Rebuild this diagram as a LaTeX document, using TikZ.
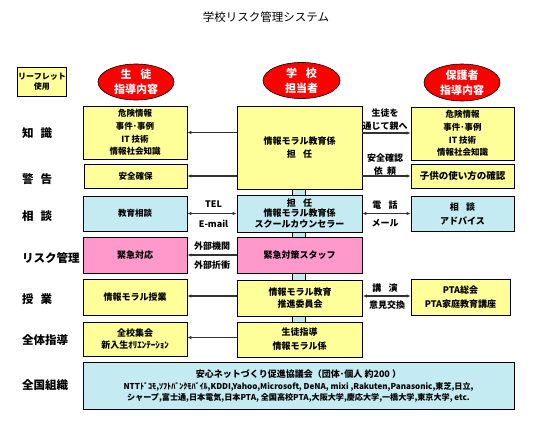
\documentclass[tikz,border=0pt]{standalone}
\usepackage{fontspec}
\setmainfont{Noto Sans CJK JP}
\usetikzlibrary{shapes.geometric,arrows.meta}
\definecolor{byellow}{HTML}{FFFF99}
\definecolor{bblue}{HTML}{C4EAF2}
\definecolor{bpink}{HTML}{FF99CC}
\definecolor{ored}{HTML}{FF0000}
\definecolor{lnc}{HTML}{333333}
\tikzset{
  box/.style={draw=black, line width=0.8pt, align=center, inner sep=1pt,
    font=\bfseries\fontsize{9}{13}\selectfont},
  ybox/.style={box, fill=byellow},
  bbox/.style={box, fill=bblue},
  pbox/.style={box, fill=bpink},
  oval/.style={ellipse, draw=black, line width=0.6pt, fill=ored, text=white,
    align=center, inner sep=0pt, font=\bfseries\fontsize{11}{15}\selectfont},
  rowlabel/.style={anchor=west, inner sep=0pt, font=\bfseries\fontsize{11.5}{12}\selectfont},
  arr/.style={draw=lnc, line width=1.1pt, -{Latex[length=4pt,width=3.5pt]}},
  darr/.style={draw=lnc, line width=1.1pt, {Latex[length=4pt,width=3.5pt]}-{Latex[length=4pt,width=3.5pt]}},
  lbl/.style={inner sep=0pt, align=center, font=\bfseries\fontsize{9}{12.5}\selectfont},
  strip/.style={draw=black, line width=0.6pt, fill=bblue},
}
\begin{document}
\begin{tikzpicture}[x=1pt,y=-1pt]
\useasboundingbox (0,0) rectangle (533,434);
% title
\node[inner sep=0pt, font=\fontsize{11.5}{13}\selectfont] (title) at (266,17) {学校リスク管理システム};
% header
\node[ybox, minimum width=48pt, minimum height=29pt, font=\bfseries\fontsize{8}{10}\selectfont] (leaf) at (42,81.5) {リーフレット\\使用};
\node[oval, minimum width=76pt, minimum height=36pt] (o1) at (136,82) {生\hspace{0.8em}徒\\指導内容};
\node[oval, minimum width=77pt, minimum height=35pt] (o2) at (301.5,80.5) {学\hspace{0.8em}校\\担当者};
\node[oval, minimum width=76pt, minimum height=37pt] (o3) at (462,82.5) {保護者\\指導内容};
% row labels
\node[rowlabel] (k1) at (22,133) {知\hspace{0.6em}識};
\node[rowlabel] (k2) at (22,179) {警\hspace{0.6em}告};
\node[rowlabel] (k3) at (22,216) {相\hspace{0.6em}談};
\node[rowlabel] (k4) at (22,258) {リスク管理};
\node[rowlabel] (k5) at (22,299) {授\hspace{0.6em}業};
\node[rowlabel] (k6) at (22,340) {全体指導};
\node[rowlabel] (k7) at (22,385) {全国組織};
% center strips (behind)
\draw[strip] (292.5,185) rectangle (305.5,326);
% left column
\node[ybox, minimum width=104pt, minimum height=53pt, font=\bfseries\fontsize{8.5}{12.6}\selectfont] (l1) at (135,132.5) {危険情報\\事件･事例\\IT 技術\\情報社会知識};
\node[ybox, minimum width=103pt, minimum height=24pt, font=\bfseries\fontsize{8.5}{12}\selectfont] (l2) at (135.5,176) {安全確保};
\node[bbox, minimum width=104pt, minimum height=35pt, font=\bfseries\fontsize{8.5}{12}\selectfont] (l3) at (135,213.5) {教育相談};
\node[pbox, minimum width=104pt, minimum height=36pt] (l4) at (135,255) {緊急対応};
\node[ybox, minimum width=104pt, minimum height=36pt] (l5) at (135,297) {情報モラル授業};
\node[ybox, minimum width=104pt, minimum height=34pt, font=\bfseries\fontsize{9}{12.5}\selectfont] (l6) at (135,339) {全校集会\\新入生ｵﾘｴﾝﾃｰｼｮﾝ};
% center column
\node[ybox, minimum width=125pt, minimum height=83pt] (c1) at (299.5,147.5) {情報モラル教育係\\担\hspace{0.8em}任};
\node[bbox, minimum width=125pt, minimum height=37pt, font=\bfseries\fontsize{9}{10.5}\selectfont] (c2) at (299.5,213.5) {担\hspace{0.8em}任\\情報モラル教育係\\スクールカウンセラー};
\node[pbox, minimum width=125pt, minimum height=36pt] (c3) at (299.5,255) {緊急対策スタッフ};
\node[ybox, minimum width=125pt, minimum height=36pt, font=\bfseries\fontsize{9}{12}\selectfont] (c4) at (300,298) {情報モラル教育\\推進委員会};
\node[ybox, minimum width=125pt, minimum height=35pt, font=\bfseries\fontsize{9}{14}\selectfont] (c5) at (299.5,339.5) {生徒指導\\情報モラル係};
% right column
\node[ybox, minimum width=103pt, minimum height=53pt, font=\bfseries\fontsize{8.5}{12.6}\selectfont] (r1) at (462.5,133.5) {危険情報\\事件･事例\\IT 技術\\情報社会知識};
\node[ybox, minimum width=103pt, minimum height=24pt, font=\bfseries\fontsize{9.5}{12}\selectfont] (r2) at (462.5,176) {子供の使い方の確認};
\node[bbox, minimum width=103pt, minimum height=35pt, font=\bfseries\fontsize{9}{14}\selectfont] (r3) at (462.5,213.5) {相\hspace{0.8em}談\\アドバイス};
\node[ybox, minimum width=99pt, minimum height=36pt, font=\bfseries\fontsize{9}{14}\selectfont] (r4) at (460.5,297) {PTA総会\\PTA家庭教育講座};
% bottom
\node[bbox, minimum width=431pt, minimum height=46.5pt, font=\bfseries\fontsize{8.1}{10.6}\selectfont] (bot) at (298.5,386) {{\fontsize{9}{11}\selectfont 安心ネットづくり促進協議会（団体･個人 約200 ）}\\[2pt]NTTﾄﾞｺﾓ,ｿﾌﾄﾊﾞﾝｸﾓﾊﾞｲﾙ,KDDI,Yahoo,Microsoft, DeNA, mixi ,Rakuten,Panasonic,東芝,日立,\\シャープ,富士通,日本電気,日本PTA, 全国高校PTA,大阪大学,慶応大学,一橋大学,東京大学, etc.};
% arrows
\draw[arr] (c1.west |- l1.east) -- (l1.east);
\draw[arr] (c1.west |- l2.east) -- (l2.east);
\draw[arr] ([yshift=0.5pt]c1.east |- r1.west) -- ([yshift=0.5pt]r1.west);
\draw[arr] (c1.east |- r2.west) -- (r2.west);
\draw[darr] (l3.east) -- (c2.west |- l3.east);
\draw[darr] (c2.east |- r3.west) -- (r3.west);
\draw[arr] (c3.west) -- (l4.east);
\draw[arr] ([yshift=1pt]c4.west |- l5.east) -- ([yshift=1pt]l5.east);
\draw[darr] ([yshift=1pt]c4.east |- r4.west) -- ([yshift=1pt]r4.west);
\draw[arr] ([yshift=1.5pt]c5.west |- l6.east) -- ([yshift=1.5pt]l6.east);
% connector labels
\node[lbl] (t1) at (385,119.5) {生徒を\\通じて親へ};
\node[lbl] (t2) at (385,164.5) {安全確認\\依\hspace{0.5em}頼};
\node[lbl] (t3) at (213.5,204) {TEL};
\node[lbl] (t4) at (213.5,224) {E-mail};
\node[lbl] (t5) at (385,205) {電\hspace{0.8em}話};
\node[lbl] (t6) at (385,223) {メール};
\node[lbl] (t7) at (212,246) {外部機関};
\node[lbl] (t8) at (212,265) {外部折衝};
\node[lbl] (t9) at (385,288) {講\hspace{0.8em}演};
\node[lbl] (t10) at (387,305) {意見交換};
\end{tikzpicture}
\end{document}
